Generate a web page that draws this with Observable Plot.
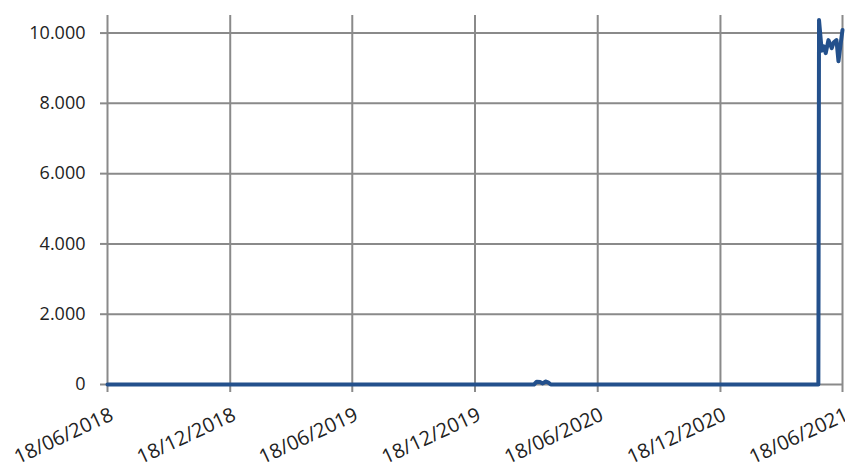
<!DOCTYPE html>
<html>
<head>
<meta charset="utf-8">
<script src="https://cdn.jsdelivr.net/npm/d3@7"></script>
<script src="https://cdn.jsdelivr.net/npm/@observablehq/plot@0.6"></script>
<style>
  html, body { margin: 0; padding: 0; background: #fff; }
  #chart { width: 845px; height: 464px; }
</style>
</head>
<body>
<div id="chart"></div>
<script>
// Data
const dates = [
  "2018-06-18", "2020-03-15", "2020-03-19", "2020-03-24", "2020-03-28",
  "2020-04-01", "2020-04-05", "2020-04-09", "2021-05-13", "2021-05-14",
  "2021-05-18", "2021-05-21", "2021-05-24", "2021-05-28", "2021-06-02",
  "2021-06-05", "2021-06-09", "2021-06-12", "2021-06-15", "2021-06-18"
];
const values = [
  0, 0, 80, 70, 30,
  85, 60, 0, 0, 10370,
  9500, 9620, 9430, 9800, 9570,
  9740, 9800, 9200, 9660, 10090
];
const xTickLabels = ["2018-06-18", "2018-12-18", "2019-06-18", "2019-12-18", "2020-06-18", "2020-12-18", "2021-06-18"];
const yTickValues = [0, 2000, 4000, 6000, 8000, 10000];

const parse = d3.utcParse("%Y-%m-%d");
const data = dates.map((d, i) => ({date: parse(d), value: values[i]}));
const xTicks = xTickLabels.map(parse);

const fmtNum = d3.formatLocale({decimal: ",", thousands: ".", grouping: [3], currency: ["", ""]}).format(",.0f");
const fmtDate = d3.utcFormat("%d/%m/%Y");

const gridColor = "#8a8a8a";

const chart = Plot.plot({
  width: 845,
  height: 464,
  marginLeft: 107,
  marginRight: 3,
  marginTop: 15,
  marginBottom: 80,
  style: {fontFamily: "'Open Sans', sans-serif", fontSize: "18px", color: "#222", background: "#fff"},
  x: {type: "utc", domain: [xTicks[0], xTicks[xTicks.length - 1]], label: null, axis: null},
  y: {domain: [0, 10500], label: null, axis: null},
  marks: [
    Plot.ruleX(xTicks, {x: d => d, y1: 0, y2: 10500, stroke: gridColor, strokeWidth: 2}),
    Plot.ruleY(yTickValues, {y: d => d, stroke: gridColor, strokeWidth: 2}),
    Plot.axisX(xTicks, {tickFormat: () => "", tickSize: 8, stroke: gridColor, strokeWidth: 2, label: null}),
    Plot.text(xTicks, {x: d => d, text: d => fmtDate(d), frameAnchor: "bottom", textAnchor: "end", lineAnchor: "top", rotate: -25, dx: 1, dy: 22, fontSize: 20, fill: "#222", clip: false}),
    Plot.axisY(yTickValues, {tickFormat: fmtNum, tickSize: 7, tickPadding: 15, stroke: gridColor, strokeWidth: 2, fill: "#222", fontSize: 18, label: null}),
    Plot.line(data, {x: "date", y: "value", stroke: "#23508c", strokeWidth: 4, strokeLinejoin: "round", strokeLinecap: "round", clip: false})
  ]
});
document.getElementById("chart").appendChild(chart);
</script>
</body>
</html>
